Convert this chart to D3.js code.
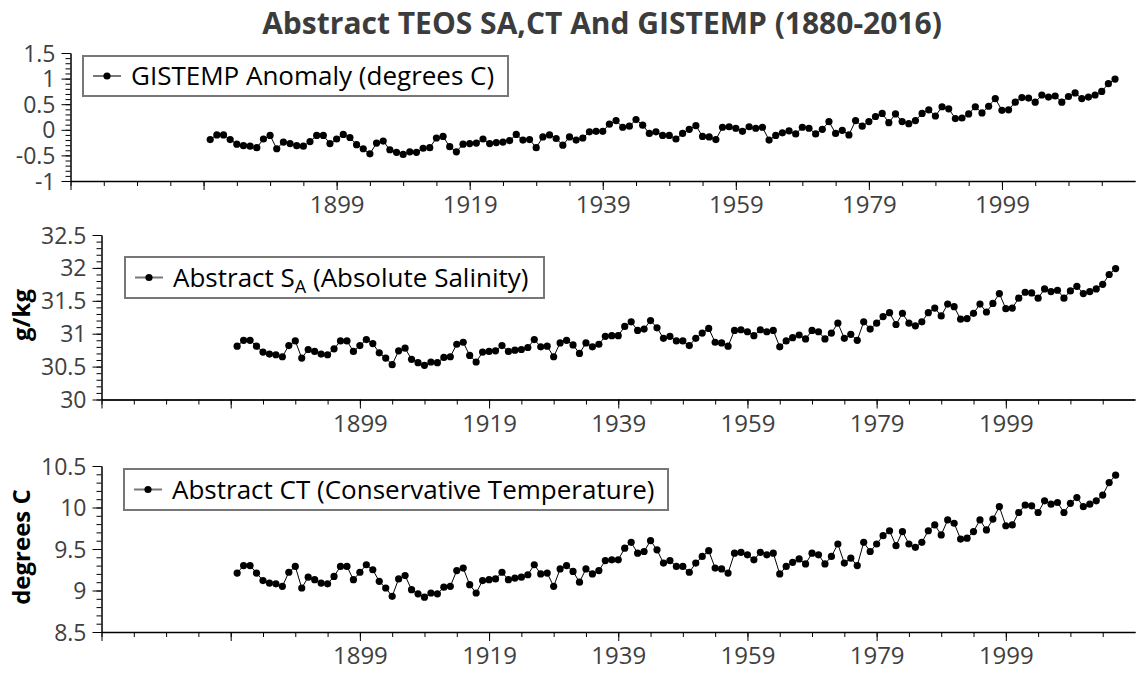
<!DOCTYPE html>
<html>
<head>
<meta charset="utf-8">
<script src="https://cdn.jsdelivr.net/npm/d3@7"></script>
<style>
    body { margin: 0; background: #fff; }
    svg text { font-family: "Open Sans", "Noto Sans", sans-serif; }
</style>
</head>
<body>
<svg id="chart" width="1147" height="682"></svg>
<script>
// 年份 (1880-2016)
let years = d3.range(1880, 2017);

// GISTEMP 年均距平 (degrees C)
let gistemp = [
    -0.19, -0.10, -0.10, -0.19, -0.28, -0.31, -0.32, -0.35, -0.18, -0.11,
    -0.37, -0.24, -0.27, -0.31, -0.32, -0.23, -0.11, -0.11, -0.27, -0.18,
    -0.09, -0.15, -0.29, -0.37, -0.47, -0.26, -0.22, -0.39, -0.44, -0.48,
    -0.43, -0.44, -0.36, -0.35, -0.16, -0.13, -0.33, -0.43, -0.28, -0.27,
    -0.26, -0.18, -0.27, -0.25, -0.24, -0.21, -0.09, -0.20, -0.19, -0.35,
    -0.14, -0.10, -0.17, -0.30, -0.14, -0.20, -0.16, -0.04, -0.03, -0.03,
    0.11, 0.18, 0.05, 0.07, 0.20, 0.09, -0.07, -0.04, -0.11, -0.11,
    -0.18, -0.07, 0.01, 0.08, -0.13, -0.14, -0.19, 0.05, 0.06, 0.03,
    -0.03, 0.06, 0.03, 0.05, -0.20, -0.11, -0.06, -0.02, -0.08, 0.05,
    0.03, -0.08, 0.01, 0.16, -0.07, -0.01, -0.10, 0.18, 0.07, 0.16,
    0.26, 0.32, 0.14, 0.31, 0.16, 0.12, 0.18, 0.32, 0.39, 0.27,
    0.45, 0.41, 0.22, 0.23, 0.31, 0.45, 0.33, 0.46, 0.61, 0.38,
    0.39, 0.54, 0.63, 0.62, 0.54, 0.68, 0.64, 0.66, 0.54, 0.65,
    0.72, 0.61, 0.64, 0.68, 0.75, 0.90, 0.99
];

// Abstract SA (g/kg)
let salinity = [
    30.81, 30.90, 30.90, 30.81, 30.72, 30.69, 30.68, 30.65, 30.82, 30.89,
    30.63, 30.76, 30.73, 30.69, 30.68, 30.77, 30.89, 30.89, 30.73, 30.82,
    30.91, 30.85, 30.71, 30.63, 30.53, 30.74, 30.78, 30.61, 30.56, 30.52,
    30.57, 30.56, 30.64, 30.65, 30.84, 30.87, 30.67, 30.57, 30.72, 30.73,
    30.74, 30.82, 30.73, 30.75, 30.76, 30.79, 30.91, 30.80, 30.81, 30.65,
    30.86, 30.90, 30.83, 30.70, 30.86, 30.80, 30.84, 30.96, 30.97, 30.97,
    31.11, 31.18, 31.05, 31.07, 31.20, 31.09, 30.93, 30.96, 30.89, 30.89,
    30.82, 30.93, 31.01, 31.08, 30.87, 30.86, 30.81, 31.05, 31.06, 31.03,
    30.97, 31.06, 31.03, 31.05, 30.80, 30.89, 30.94, 30.98, 30.92, 31.05,
    31.03, 30.92, 31.01, 31.16, 30.93, 30.99, 30.90, 31.18, 31.07, 31.16,
    31.26, 31.32, 31.14, 31.31, 31.16, 31.12, 31.18, 31.32, 31.39, 31.27,
    31.45, 31.41, 31.22, 31.23, 31.31, 31.45, 31.33, 31.46, 31.61, 31.38,
    31.39, 31.54, 31.63, 31.62, 31.54, 31.68, 31.64, 31.66, 31.54, 31.65,
    31.72, 31.61, 31.64, 31.68, 31.75, 31.90, 31.99
];

// Abstract CT (degrees C)
let consTemp = [
    9.21, 9.30, 9.30, 9.21, 9.12, 9.09, 9.08, 9.05, 9.22, 9.29,
    9.03, 9.16, 9.13, 9.09, 9.08, 9.17, 9.29, 9.29, 9.13, 9.22,
    9.31, 9.25, 9.11, 9.03, 8.93, 9.14, 9.18, 9.01, 8.96, 8.92,
    8.97, 8.96, 9.04, 9.05, 9.24, 9.27, 9.07, 8.97, 9.12, 9.13,
    9.14, 9.22, 9.13, 9.15, 9.16, 9.19, 9.31, 9.20, 9.21, 9.05,
    9.26, 9.30, 9.23, 9.10, 9.26, 9.20, 9.24, 9.36, 9.37, 9.37,
    9.51, 9.58, 9.45, 9.47, 9.60, 9.49, 9.33, 9.36, 9.29, 9.29,
    9.22, 9.33, 9.41, 9.48, 9.27, 9.26, 9.21, 9.45, 9.46, 9.43,
    9.37, 9.46, 9.43, 9.45, 9.20, 9.29, 9.34, 9.38, 9.32, 9.45,
    9.43, 9.32, 9.41, 9.56, 9.33, 9.39, 9.30, 9.58, 9.47, 9.56,
    9.66, 9.72, 9.54, 9.71, 9.56, 9.52, 9.58, 9.72, 9.79, 9.67,
    9.85, 9.81, 9.62, 9.63, 9.71, 9.85, 9.73, 9.86, 10.01, 9.78,
    9.79, 9.94, 10.03, 10.02, 9.94, 10.08, 10.04, 10.06, 9.94, 10.05,
    10.12, 10.01, 10.04, 10.08, 10.15, 10.30, 10.39
];

// x 轴刻度标签
let xTickLabels = ['1899', '1919', '1939', '1959', '1979', '1999'];
let xDomain = [1859, 2019];

let svg = d3.select('#chart');

// 标题
svg.append('text')
    .attr('x', 602)
    .attr('y', 34)
    .attr('text-anchor', 'middle')
    .style('font-size', '30px')
    .style('font-weight', 'bold')
    .style('fill', '#3c3c3c')
    .text('Abstract TEOS SA,CT And GISTEMP (1880-2016)');

// 三个子图的设置
let panels = [
    {
        values: gistemp, yDomain: [-1, 1.5], left: 70.5, top: 53, bottom: 181,
        yLabel: null,
        legend: {x: 83, y: 56, w: 425, h: 40, parts: ['GISTEMP Anomaly (degrees C)']}
    },
    {
        values: salinity, yDomain: [30, 32.5], left: 101.5, top: 235, bottom: 399.5,
        yLabel: 'g/kg', yLabelY: 315,
        legend: {x: 125, y: 257, w: 419, h: 41, parts: ['Abstract S', 'A', ' (Absolute Salinity)']}
    },
    {
        values: consTemp, yDomain: [8.5, 10.5], left: 101.5, top: 466, bottom: 632,
        yLabel: 'degrees C', yLabelY: 547,
        legend: {x: 124, y: 469, w: 544, h: 41, parts: ['Abstract CT (Conservative Temperature)']}
    }
];

let right = 1135;

panels.forEach(function (p) {
    let x = d3.scaleLinear().domain(xDomain).range([p.left, right]);
    let y = d3.scaleLinear().domain(p.yDomain).range([p.bottom, p.top]);
    let g = svg.append('g');

    // x 轴: 次刻度 每5年, 主刻度 每20年
    let minorX = d3.range(xDomain[0], xDomain[1], 5);
    let majorX = d3.range(xDomain[0], xDomain[1], 20);
    g.append('g')
        .attr('transform', 'translate(0,' + p.bottom + ')')
        .call(d3.axisBottom(x).tickValues(minorX).tickSize(5).tickSizeOuter(0).tickFormat(''));
    let xAxis = g.append('g')
        .attr('transform', 'translate(0,' + p.bottom + ')')
        .call(d3.axisBottom(x).tickValues(majorX).tickSize(9).tickSizeOuter(0).tickPadding(6)
            .tickFormat(function (d) {
                return xTickLabels.indexOf(String(d)) >= 0 ? String(d) : '';
            }));
    xAxis.select('.domain').attr('stroke-width', 1.5);

    // y 轴
    let ySpan = p.yDomain[1] - p.yDomain[0];
    let minorY = d3.range(0, Math.round(ySpan * 10) + 1).map(function (i) { return p.yDomain[0] + i * 0.1; });
    let majorY = d3.range(0, Math.round(ySpan * 2) + 1).map(function (i) { return p.yDomain[0] + i * 0.5; });
    g.append('g')
        .attr('transform', 'translate(' + p.left + ',0)')
        .call(d3.axisLeft(y).tickValues(minorY).tickSize(5).tickSizeOuter(0).tickFormat(''));
    g.append('g')
        .attr('transform', 'translate(' + p.left + ',0)')
        .call(d3.axisLeft(y).tickValues(majorY).tickSize(9).tickSizeOuter(0).tickPadding(6)
            .tickFormat(function (d) { return String(+d.toFixed(1)); }));

    g.selectAll('.tick text')
        .style('font-family', '"Open Sans", sans-serif')
        .style('fill', '#404040');
    xAxis.selectAll('.tick text').style('font-size', '24px');
    g.selectAll('.tick text').filter(function () {
        return this.parentNode.parentNode !== xAxis.node();
    }).style('font-size', '23px').attr('dy', '0.35em');

    // y 轴标题
    if (p.yLabel) {
        svg.append('text')
            .attr('transform', 'translate(30,' + p.yLabelY + ') rotate(-90)')
            .attr('text-anchor', 'middle')
            .style('font-size', '24px')
            .style('font-weight', 'bold')
            .style('fill', '#000')
            .text(p.yLabel);
    }

    // 折线和点
    let line = d3.line()
        .x(function (d, i) { return x(years[i]); })
        .y(function (d) { return y(d); });
    g.append('path')
        .datum(p.values)
        .attr('d', line)
        .attr('fill', 'none')
        .attr('stroke', '#000')
        .attr('stroke-width', 1);
    g.selectAll('circle')
        .data(p.values)
        .enter()
        .append('circle')
        .attr('cx', function (d, i) { return x(years[i]); })
        .attr('cy', function (d) { return y(d); })
        .attr('r', 3.6)
        .attr('fill', '#000');

    // 图例
    let L = p.legend;
    let gl = svg.append('g').attr('transform', 'translate(' + L.x + ',' + L.y + ')');
    gl.append('rect')
        .attr('width', L.w).attr('height', L.h)
        .attr('fill', '#fff')
        .attr('stroke', '#777')
        .attr('stroke-width', 2);
    gl.append('line')
        .attr('x1', 10).attr('x2', 38)
        .attr('y1', L.h / 2).attr('y2', L.h / 2)
        .attr('stroke', '#777').attr('stroke-width', 2);
    gl.append('circle')
        .attr('cx', 24).attr('cy', L.h / 2).attr('r', 3.6).attr('fill', '#000');
    let t = gl.append('text')
        .attr('x', 48)
        .attr('y', L.h / 2 + 9)
        .style('font-size', '26px')
        .style('fill', '#000');
    t.append('tspan').text(L.parts[0]);
    if (L.parts.length > 1) {
        t.append('tspan').attr('dy', 6).style('font-size', '18px').text(L.parts[1]);
        t.append('tspan').attr('dy', -6).text(L.parts[2]);
    }
});
</script>
</body>
</html>
